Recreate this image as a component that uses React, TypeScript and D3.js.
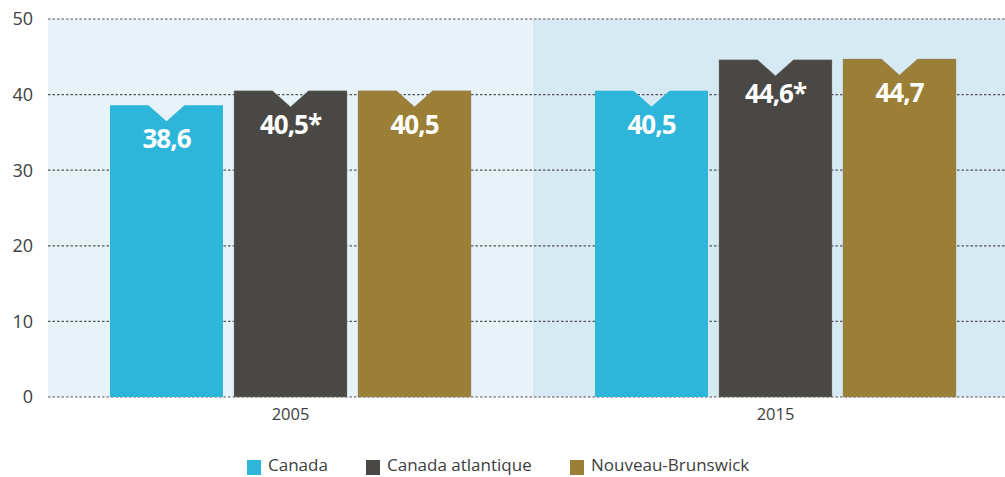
import React from "react";
import * as d3 from "d3";

const years = ["2005", "2015"];
const series = ["Canada", "Canada atlantique", "Nouveau-Brunswick"];
const colors = ["#2db6da", "#4a4844", "#9b7f36"];
const values2005 = [38.6, 40.5, 40.5];
const values2015 = [40.5, 44.6, 44.7];
const labels2005 = ["38,6", "40,5*", "40,5"];
const labels2015 = ["40,5", "44,6*", "44,7"];
const yTicks = [0, 10, 20, 30, 40, 50];

const W = 1005;
const H = 477;
const left = 48;
const y = d3.scaleLinear().domain([0, 50]).range([397, 19]);
const x0 = d3.scaleBand().domain(years).range([left, 1018]);
const x1 = d3
  .scaleBand()
  .domain(series)
  .range([0, x0.bandwidth()])
  .paddingInner(11 / 124)
  .paddingOuter(0.5);

const valuesByYear = [values2005, values2015];
const labelsByYear = [labels2005, labels2015];
const panelFills = ["#e7f3f8", "#d6eaf3"];
const font = "'Open Sans', 'DejaVu Sans', sans-serif";

export default function App() {
  const notchW = 18;
  const notchD = 16;
  return (
    <svg
      width={W}
      height={H}
      style={{ position: "absolute", left: 0, top: 0, display: "block" }}
    >
      <rect width={W} height={H} fill="#ffffff" />
      {years.map((yr, i) => (
        <rect
          key={yr}
          x={i === 0 ? left : (x0(yr) as number)}
          y={y(50)}
          width={i === 0 ? (x0(yr) as number) + x0.bandwidth() - left : W - (x0(yr) as number)}
          height={y(0) - y(50)}
          fill={panelFills[i]}
        />
      ))}
      {yTicks.map((t) => (
        <g key={t}>
          <line
            x1={left}
            x2={W}
            y1={y(t)}
            y2={y(t)}
            stroke="#555"
            strokeWidth={1.2}
            strokeDasharray="2.5,2"
          />
          <text
            x={33}
            y={y(t)}
            dy="0.35em"
            textAnchor="end"
            fontFamily={font}
            fontSize={18}
            fill="#404040"
          >
            {t}
          </text>
        </g>
      ))}
      {years.map((yr, i) =>
        series.map((s, j) => {
          const v = valuesByYear[i][j];
          const bx = (x0(yr) as number) + (x1(s) as number);
          const bw = x1.bandwidth();
          const cx = bx + bw / 2;
          const top = y(v);
          const base = y(0);
          const path = `M${bx},${top} L${cx - notchW},${top} L${cx},${top + notchD} L${cx + notchW},${top} L${bx + bw},${top} L${bx + bw},${base} L${bx},${base} Z`;
          return (
            <g key={yr + s}>
              <path d={path} fill={colors[j]} stroke={j === 0 ? "none" : "#8a8a84"} strokeWidth={j === 0 ? 0 : 0.6} strokeOpacity={0.6} />
              <text
                x={cx}
                y={top + 43}
                textAnchor="middle"
                fontFamily={font}
                fontWeight={700}
                fontSize={26}
                letterSpacing={-1}
                fill="#ffffff"
              >
                {labelsByYear[i][j]}
              </text>
            </g>
          );
        })
      )}
      {years.map((yr) => (
        <text
          key={yr}
          x={(x0(yr) as number) + x0.bandwidth() / 2}
          y={420}
          textAnchor="middle"
          fontFamily={font}
          fontSize={16.5}
          fill="#404040"
        >
          {yr}
        </text>
      ))}
      {series.map((s, j) => {
        const lx = [247, 366, 570][j];
        return (
          <g key={s}>
            <rect x={lx} y={460} width={14} height={15} fill={colors[j]} />
            <text
              x={lx + 21}
              y={471}
              fontFamily={font}
              fontSize={17}
              fill="#404040"
            >
              {s}
            </text>
          </g>
        );
      })}
    </svg>
  );
}
